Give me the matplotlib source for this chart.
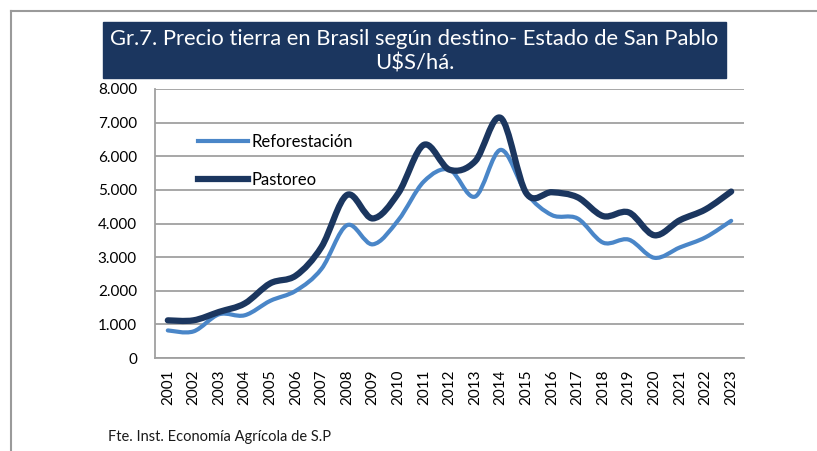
import matplotlib
matplotlib.use("Agg")
import matplotlib.pyplot as plt
from matplotlib.lines import Line2D
from matplotlib.patches import Rectangle, PathPatch
from matplotlib.path import Path

years = [str(y) for y in range(2001, 2024)]
reforestacion = [820, 790, 1300, 1270, 1700, 2000, 2650, 3950, 3380, 4100,
                 5250, 5600, 4800, 6190, 4900, 4250, 4150, 3430, 3520, 2980,
                 3290, 3590, 4080]
pastoreo = [1120, 1120, 1370, 1620, 2220, 2450, 3300, 4850, 4150, 4900,
            6340, 5600, 5850, 7140, 4900, 4930, 4780, 4220, 4330, 3650,
            4100, 4420, 4950]
yticks = [0, 1000, 2000, 3000, 4000, 5000, 6000, 7000, 8000]
ytick_labels = ["0", "1.000", "2.000", "3.000", "4.000", "5.000", "6.000", "7.000", "8.000"]

plt.rcParams['font.family'] = ['Lato', 'DejaVu Sans']

W, H = 817, 451
fig = plt.figure(figsize=(W / 100, H / 100), dpi=100)
fig.patch.set_facecolor('white')

# outer border (top and left)
fig.add_artist(Line2D([11 / W, 1.0], [1 - 11 / H, 1 - 11 / H], transform=fig.transFigure,
                      color='#9a9a9a', lw=1.5))
fig.add_artist(Line2D([11 / W, 11 / W], [0, 1 - 11 / H], transform=fig.transFigure,
                      color='#9a9a9a', lw=1.5))

# title box
fig.add_artist(Rectangle((103 / W, 1 - 78 / H), (726 - 103) / W, (78 - 22) / H,
                         transform=fig.transFigure, facecolor='#1B365F',
                         edgecolor='#1B365F'))
fig.text((103 + 726) / 2 / W, 1 - 51 / H,
         "Gr.7. Precio tierra en Brasil según destino- Estado de San Pablo\nU$S/há.",
         ha='center', va='center', color='white', fontsize=15.8, linespacing=1.3)

ax = fig.add_axes([155 / W, 1 - 358 / H, (744 - 155) / W, (358 - 89) / H])
x = list(range(len(years)))


def smooth_path(xs, ys):
    """Excel-style smoothed line: Bezier segments through the data points."""
    verts = [(xs[0], ys[0])]
    codes = [Path.MOVETO]
    n = len(xs)
    for i in range(n - 1):
        x0, y0 = (xs[i - 1], ys[i - 1]) if i > 0 else (xs[i], ys[i])
        x1, y1 = xs[i], ys[i]
        x2, y2 = xs[i + 1], ys[i + 1]
        x3, y3 = (xs[i + 2], ys[i + 2]) if i + 2 < n else (xs[i + 1], ys[i + 1])
        c1 = (x1 + (x2 - x0) / 6, y1 + (y2 - y0) / 6)
        c2 = (x2 - (x3 - x1) / 6, y2 - (y3 - y1) / 6)
        verts += [c1, c2, (x2, y2)]
        codes += [Path.CURVE4] * 3
    return Path(verts, codes)


for vals, col, lw, lab in [(reforestacion, '#4A86C8', 3, 'Reforestación'),
                           (pastoreo, '#1B365F', 4.5, 'Pastoreo')]:
    ax.add_patch(PathPatch(smooth_path(x, vals), facecolor='none', edgecolor=col,
                           lw=lw, joinstyle='round', capstyle='round'))
    ax.plot([], [], color=col, lw=lw, label=lab)

ax.set_xlim(-0.5, len(years) - 0.5)
ax.set_ylim(0, 8000)
ax.set_yticks(yticks)
ax.set_yticklabels(ytick_labels, fontsize=11)
ax.set_xticks(x)
ax.set_xticklabels(years, rotation=90, fontsize=11)
ax.tick_params(axis='both', length=0, pad=13)
ax.tick_params(axis='x', pad=8)
ax.grid(axis='y', color='#a0a0a0', lw=1.3)
ax.set_axisbelow(True)
for s in ['top', 'right']:
    ax.spines[s].set_visible(False)
for s in ['left', 'bottom']:
    ax.spines[s].set_color('#a0a0a0')
    ax.spines[s].set_linewidth(1.3)

leg = ax.legend(loc='upper left', bbox_to_anchor=(0.048, 0.89), frameon=False,
                fontsize=12, handlelength=3.0, handletextpad=0.2, labelspacing=1.35)

fig.text(108 / W, 1 - 437 / H, "Fte. Inst. Economía Agrícola de S.P", fontsize=10.5,
         ha='left', va='center', color='#1a1a1a')

fig.savefig('out.png', dpi=100)
